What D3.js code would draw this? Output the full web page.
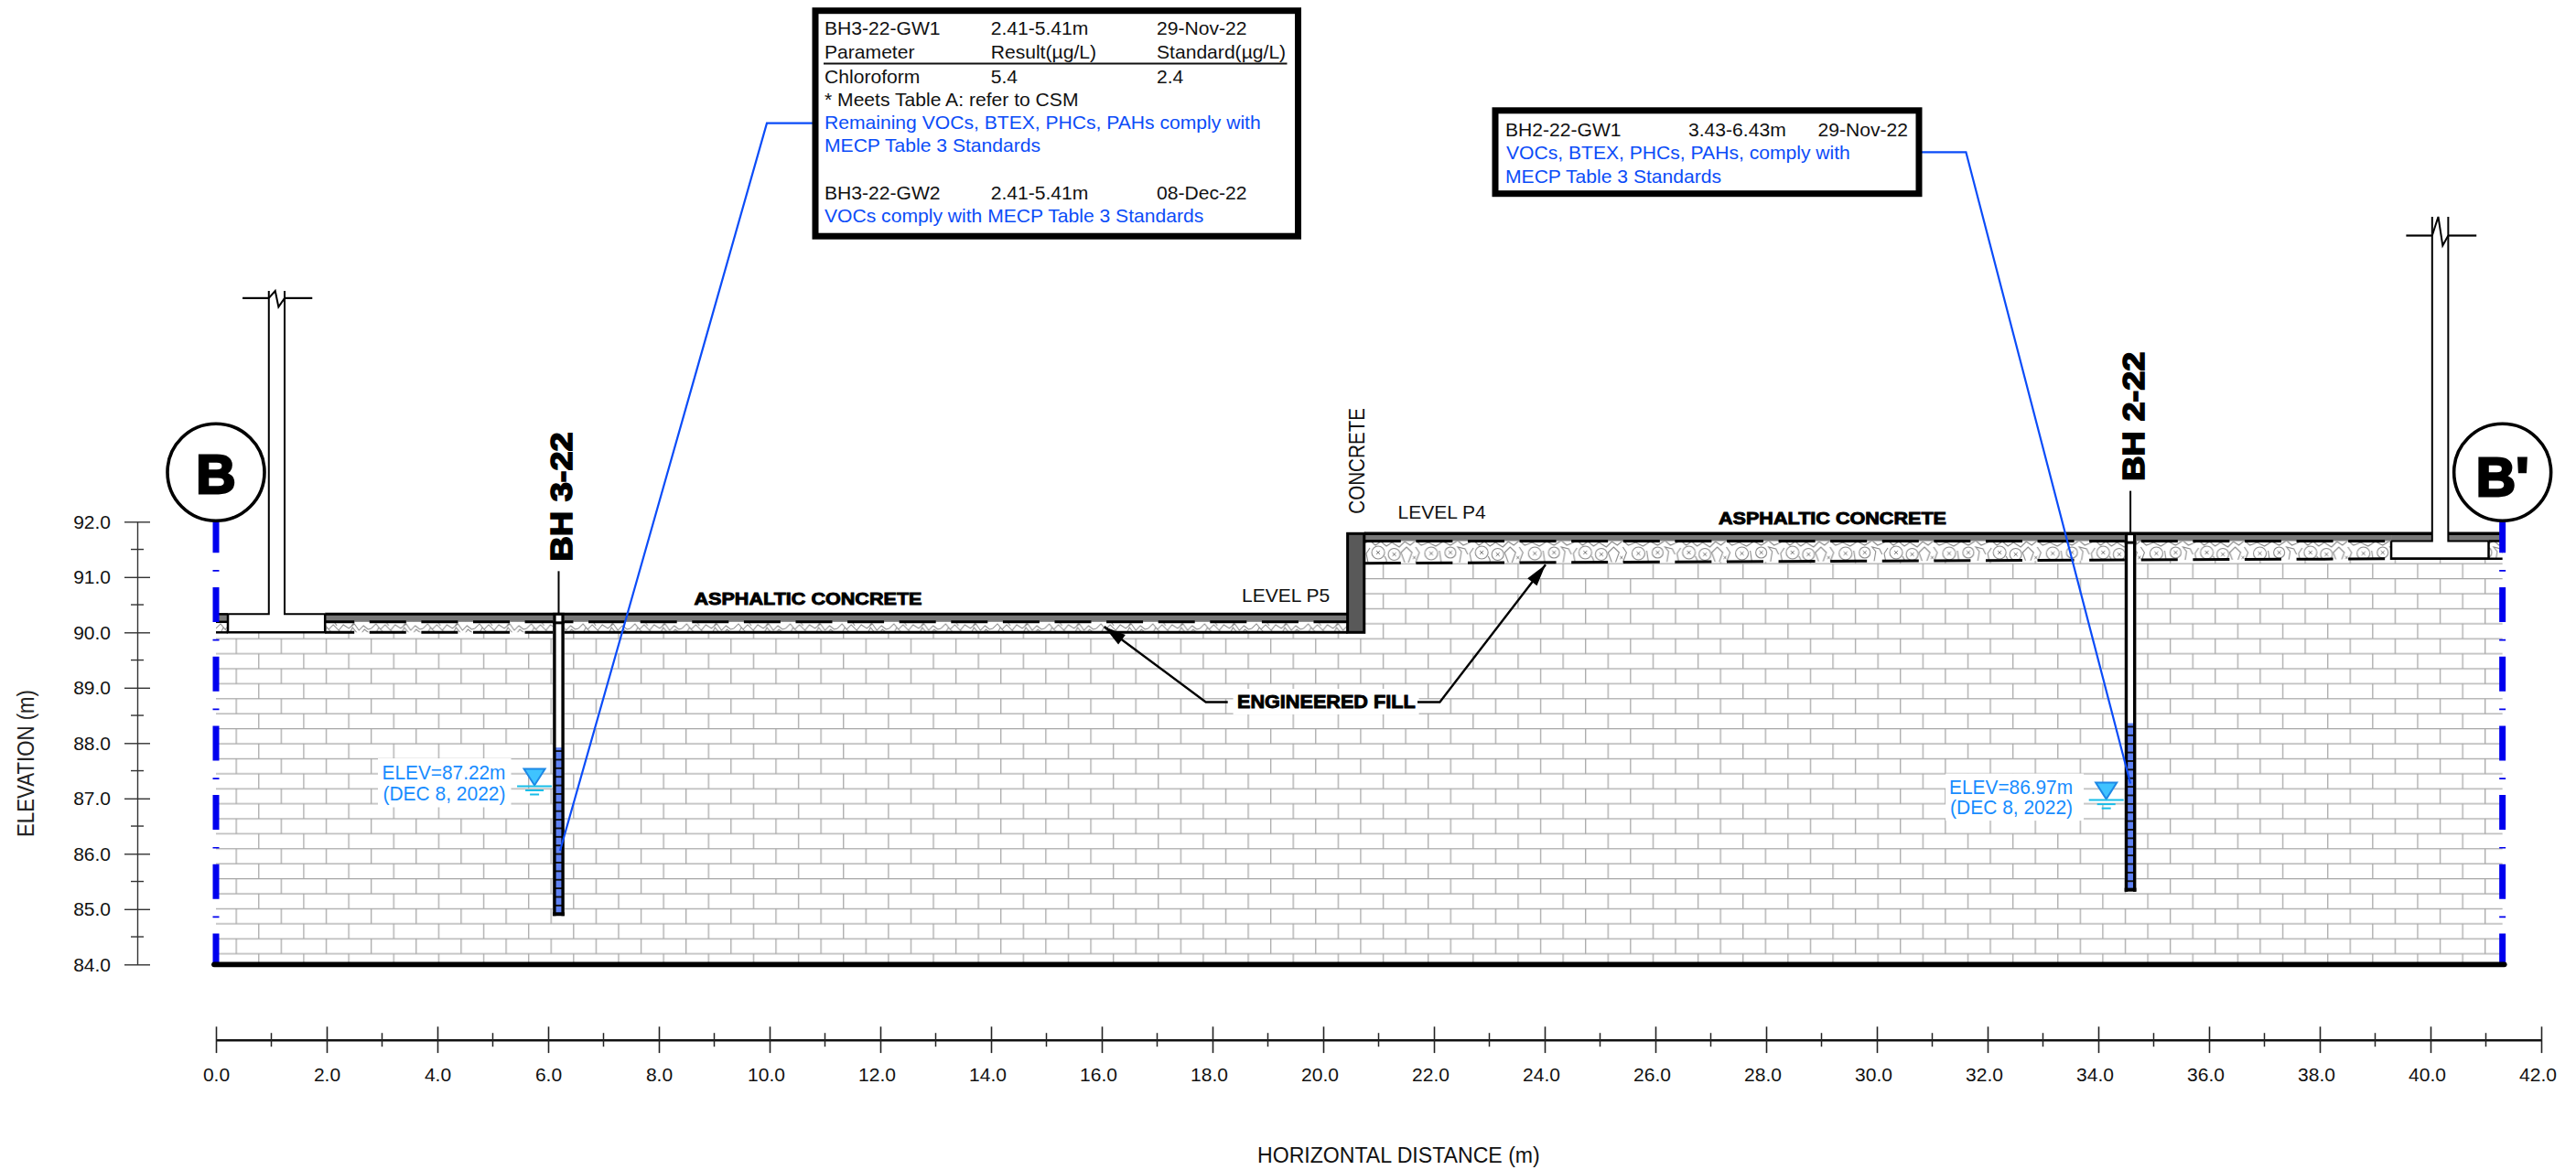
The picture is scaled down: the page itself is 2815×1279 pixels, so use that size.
<!DOCTYPE html>
<html><head><meta charset="utf-8">
<script src="https://cdn.jsdelivr.net/npm/d3@7"></script>
<style>
html,body{margin:0;padding:0;background:#fff}
svg{display:block}
text{font-family:"Liberation Sans",Arial,sans-serif}
</style></head><body>
<svg id="c" width="2815" height="1279"></svg>
<script>
// ---------- data (metres / elevations) ----------
const xMajor = [0,2,4,6,8,10,12,14,16,18,20,22,24,26,28,30,32,34,36,38,40,42];
const xMinor = [1,3,5,7,9,11,13,15,17,19,21,23,25,27,29,31,33,35,37,39,41];
const yMajor = [84,85,86,87,88,89,90,91,92];
const yMinor = [84.5,85.5,86.5,87.5,88.5,89.5,90.5,91.5];
const sectionEnds = [0,41.3];
const sectionNames = ["B","B'"];
const wellNames = ["BH 3-22","BH 2-22"];
const wellX = [6.19,34.58];
const wellTop = [90.33,91.78];
const wellScreenTop = [87.92,88.36];
const wellScreenBottom = [84.91,85.35];
const waterElev = [87.22,86.97];
const waterLabels = ["ELEV=87.22m","ELEV=86.97m"];
const waterDate = "(DEC 8, 2022)";
const p5Levels = [90.33,90.19,90.0];      // slab top, slab underside, fill base
const p4Levels = [91.785,91.65];          // slab top, slab underside
const p4Base = [91.25,91.33];             // fill base at wall and at east end
const stepWall = [20.44,20.74];
const westWall = [0.955,1.24], westFoot = [0.215,1.97], westBreak = [96.04,96.17];
const eastWall = [40.03,40.32], eastFoot = [39.29,41.05], eastBreak = [97.17,97.51];
const box1Rows = [["BH3-22-GW1","2.41-5.41m","29-Nov-22"],["Parameter","Result(µg/L)","Standard(µg/L)"],["Chloroform","5.4","2.4"]];
const box1Notes = ["* Meets Table A: refer to CSM"];
const box1Blue = ["Remaining VOCs, BTEX, PHCs, PAHs comply with","MECP Table 3 Standards"];
const box1Second = ["BH3-22-GW2","2.41-5.41m","08-Dec-22"];
const box1SecondBlue = ["VOCs comply with MECP Table 3 Standards"];
const box2Row = ["BH2-22-GW1","3.43-6.43m","29-Nov-22"];
const box2Blue = ["VOCs, BTEX, PHCs, PAHs, comply with","MECP Table 3 Standards"];

// ---------- scales ----------
const x = d3.scaleLinear().domain([0,42]).range([236,2777]);
const y = d3.scaleLinear().domain([84,92]).range([1054.3,570.3]);
const svg = d3.select("#c");
const BLUE="#0b4cf8", WBLUE="#178cff", CYAN="#18bde8", DASHBLUE="#0000ee";

// ---------- defs ----------
const defs = svg.append("defs");
const brick = defs.append("pattern").attr("id","brick").attr("patternUnits","userSpaceOnUse")
  .attr("x",257.5).attr("y",1025.6).attr("width",49.15).attr("height",32.8);
brick.append("rect").attr("width",49.15).attr("height",32.8).attr("fill","#fff");
brick.append("path").attr("fill","none").attr("stroke","#a6a6a6").attr("stroke-width",1.25)
  .attr("d","M0,.7H49.15M0,17.1H49.15M.7,0V17.1M25.3,17.1V32.8M25.3,0V.7");
const st = defs.append("pattern").attr("id","stoneR").attr("patternUnits","userSpaceOnUse")
  .attr("x",1491).attr("y",590).attr("width",113.2).attr("height",25);
st.append("rect").attr("width",113.2).attr("height",25).attr("fill","#fff");
st.append("path").attr("fill","none").attr("stroke","#8a8a8a").attr("stroke-width",1.1)
  .attr("d","M8,14a7,7 0 1,0 14,0a7,7 0 1,0 -14,0M26,16a6.5,6.5 0 1,0 13,0a6.5,6.5 0 1,0 -13,0"
  +"M66,15a7,7 0 1,0 14,0a7,7 0 1,0 -14,0M88,14a6,6 0 1,0 12,0a6,6 0 1,0 -12,0"
  +"M0,4L6,1L12,6L18,2L24,7L30,3L38,8L44,2L50,6L56,1L62,6L70,3L78,7L86,2L94,6L102,1L108,6L113,4"
  +"M4,25L2,15L6,9M24,25V22L22,18M44,25L40,14L46,8L52,14L48,25M56,25L60,14L56,8M84,25L82,12M104,25L106,13L102,8L110,10L113,16");
st.append("path").attr("fill","none").attr("stroke","#666").attr("stroke-width",.9)
  .attr("d","M13,12l4,4m0,-4l-4,4M30.5,14l4,4m0,-4l-4,4M71,13l4,4m0,-4l-4,4M92,12l4,4m0,-4l-4,4M53,18l3,3m0,-3l-3,3");
const sl = defs.append("pattern").attr("id","stoneL").attr("patternUnits","userSpaceOnUse")
  .attr("x",236).attr("y",680).attr("width",56.6).attr("height",12);
sl.append("rect").attr("width",56.6).attr("height",12).attr("fill","#fff");
sl.append("path").attr("fill","none").attr("stroke","#8a8a8a").attr("stroke-width",1)
  .attr("d","M0,7L5,2L10,8L15,3L21,9L26,3L32,7L38,2L43,9L48,4L53,8L56.6,7M5,12L8,6L13,11M21,9L24,12M33,12L36,6L41,12M46,12L49,8L54,12M16,0L19,4M38,0L35,4");

// ---------- fill (brick hatch) ----------
const gen = d3.line().x(d=>x(d[0])).y(d=>y(d[1]));
svg.append("path").attr("fill","url(#brick)")
  .attr("d",gen([[sectionEnds[0],84],[sectionEnds[0],p5Levels[2]],[stepWall[1],p5Levels[2]],[stepWall[1],p4Base[0]],[sectionEnds[1],p4Base[1]],[sectionEnds[1],84]])+"Z");

// ---------- stone layers ----------
svg.append("path").attr("fill","url(#stoneL)")
  .attr("d",gen([[sectionEnds[0],p5Levels[1]],[stepWall[0],p5Levels[1]],[stepWall[0],p5Levels[2]],[sectionEnds[0],p5Levels[2]]])+"Z");
svg.append("path").attr("fill","url(#stoneR)")
  .attr("d",gen([[stepWall[1],p4Levels[1]],[sectionEnds[1],p4Levels[1]],[sectionEnds[1],p4Base[1]],[stepWall[1],p4Base[0]]])+"Z");

// ---------- asphalt slabs ----------
const GREY="#787878";
const rectM=(x0,x1,e0,e1,fill)=>svg.append("rect").attr("x",x(x0)).attr("width",x(x1)-x(x0)).attr("y",y(e0)).attr("height",y(e1)-y(e0)).attr("fill",fill);
rectM(sectionEnds[0],westFoot[0],p5Levels[0],p5Levels[1],GREY);
rectM(westFoot[1],stepWall[0],p5Levels[0],p5Levels[1],GREY);
rectM(stepWall[1],eastFoot[0],p4Levels[0],p4Levels[1],GREY);
rectM(eastFoot[0],eastWall[0],p4Levels[0],p4Levels[1],GREY);
rectM(eastWall[1],sectionEnds[1],p4Levels[0],p4Levels[1],GREY);

const line=(x0,e0,x1,e1,w,col,dash,off)=>{const l=svg.append("line").attr("x1",x(x0)).attr("y1",y(e0)).attr("x2",x(x1)).attr("y2",y(e1)).attr("stroke",col||"#000").attr("stroke-width",w);
  if(dash)l.attr("stroke-dasharray",dash).attr("stroke-dashoffset",off||0);return l;};
// footings (white) and their outlines
const poly=(pts,w,fill)=>svg.append("path").attr("d",gen(pts)).attr("fill",fill||"none").attr("stroke","#000").attr("stroke-width",w).attr("stroke-linejoin","miter");
svg.append("rect").attr("x",x(westFoot[0])).attr("width",x(westFoot[1])-x(westFoot[0])).attr("y",y(p5Levels[0])).attr("height",y(p5Levels[2])-y(p5Levels[0])).attr("fill","#fff");
svg.append("rect").attr("x",x(eastFoot[0])).attr("width",x(eastFoot[1])-x(eastFoot[0])).attr("y",y(p4Levels[1])).attr("height",y(p4Base[1])-y(p4Levels[1])).attr("fill","#fff");
svg.append("rect").attr("x",x(eastWall[0])).attr("width",x(eastWall[1])-x(eastWall[0])).attr("y",y(p4Levels[0])-1).attr("height",y(p4Levels[1])-y(p4Levels[0])+2).attr("fill","#fff");

// slab top lines
line(sectionEnds[0],p5Levels[0],westFoot[0],p5Levels[0],2.5);
line(westFoot[1],p5Levels[0],stepWall[0],p5Levels[0],3);
line(stepWall[1],p4Levels[0],eastWall[0],p4Levels[0],3.5);
line(eastWall[1],p4Levels[0],sectionEnds[1],p4Levels[0],3.5);
// west footing + wall outline
poly([[westFoot[0],p5Levels[0]],[westFoot[0],p5Levels[2]],[westFoot[1],p5Levels[2]],[westFoot[1],p5Levels[0]]],2.5);
poly([[westWall[0],westBreak[1]],[westWall[0],p5Levels[0]],[westFoot[0],p5Levels[0]]],2);
poly([[westWall[1],westBreak[1]],[westWall[1],p5Levels[0]],[westFoot[1],p5Levels[0]]],2);
// east footing + wall outline
poly([[eastFoot[0],p4Levels[1]],[eastFoot[0],p4Base[1]],[eastFoot[1],p4Base[1]],[eastFoot[1],p4Levels[1]]],2.5);
poly([[eastFoot[0],p4Levels[1]],[eastWall[0],p4Levels[1]],[eastWall[0],eastBreak[1]]],2);
poly([[eastWall[1],eastBreak[1]],[eastWall[1],p4Levels[1]],[eastFoot[1],p4Levels[1]]],2);
// break symbols
const br=(w,lvl,top,l,r,a,b,lowY)=>{
  line(l,lvl,w[0],lvl,2.2); line(w[1],lvl,r,lvl,2.2);
  poly([[w[0],lvl],[a,top],[b,lowY],[w[1],lvl]],2);
};
br(westWall,westBreak[0],westBreak[1],0.48,1.74,1.07,1.13,95.88);
br(eastWall,eastBreak[0],eastBreak[1],39.56,40.83,40.14,40.22,96.99);

// membrane dashes and base lines
line(sectionEnds[0],p5Levels[1],westFoot[0],p5Levels[1],2.5);
line(sectionEnds[0],p5Levels[2],westFoot[0],p5Levels[2],2.5);
line(westFoot[1],p5Levels[1],wellX[0],p5Levels[1],3,"#000","40 16.6",8);
line(westFoot[1],p5Levels[2],wellX[0],p5Levels[2],3,"#000","40 16.6",8);
line(wellX[0],p5Levels[1],stepWall[0],p5Levels[1],3,"#000","40 16.6",24);
line(wellX[0],p5Levels[2],stepWall[0],p5Levels[2],3);
line(stepWall[1],p4Levels[1],eastFoot[0],p4Levels[1],3,"#000","40 16.6",0);
line(stepWall[1],p4Base[0],eastFoot[0],p4Base[1],3,"#000","40 16.6",0);
line(eastFoot[1],p4Levels[1],sectionEnds[1],p4Levels[1],2.5);
line(eastFoot[0],p4Base[1],sectionEnds[1],p4Base[1],2.5);
// step wall (concrete)
svg.append("rect").attr("x",x(stepWall[0])).attr("width",x(stepWall[1])-x(stepWall[0])).attr("y",y(p4Levels[0])).attr("height",y(p5Levels[2])-y(p4Levels[0]))
  .attr("fill","#595959").attr("stroke","#000").attr("stroke-width",3);

// ---------- section lines ----------
sectionEnds.forEach(e=>{
  svg.append("line").attr("x1",x(e)).attr("x2",x(e)).attr("y1",y(92)).attr("y2",y(84))
   .attr("stroke",DASHBLUE).attr("stroke-width",7).attr("stroke-dasharray","38 18.8 1.7 17.2").attr("stroke-dashoffset",4);
});
svg.append("line").attr("x1",x(sectionEnds[0])-2).attr("x2",x(sectionEnds[1])+2).attr("y1",y(84)).attr("y2",y(84))
  .attr("stroke","#000").attr("stroke-width",5.8).attr("stroke-linecap","round");
// section bubbles
sectionEnds.forEach((e,i)=>{
  const g=svg.append("g").attr("transform",`translate(${x(e)},${y(92)-54})`);
  g.append("circle").attr("r",53).attr("fill","#fff").attr("stroke","#000").attr("stroke-width",3.6);
  g.append("text").text(sectionNames[i]).attr("text-anchor","middle").attr("y",i?26:23).attr("font-size",60).attr("font-weight",700)
    .attr("stroke","#000").attr("stroke-width",2.8);
});

// ---------- wells ----------
const waterDx=[-193,-198], waterLine1=[-7.5,-6.6], waterGap=[23.5,22], waterBoxLeft=[-197.5,-202];
wellX.forEach((wx,i)=>{
  const cx=x(wx);
  svg.append("rect").attr("x",cx-6.2).attr("width",12.4).attr("y",y(wellTop[i])).attr("height",y(wellScreenBottom[i])-y(wellTop[i])).attr("fill","#fff");
  const sy0=y(wellScreenTop[i]), sy1=y(wellScreenBottom[i]);
  svg.append("rect").attr("x",cx-4.5).attr("width",9).attr("y",sy0).attr("height",sy1-sy0).attr("fill","#5f82f4");
  svg.append("g").selectAll("line").data(d3.range(wellScreenBottom[i]+0.155,wellScreenTop[i]-0.06,0.155)).join("line")
    .attr("x1",cx-5).attr("x2",cx+5).attr("y1",d=>y(d)).attr("y2",d=>y(d)).attr("stroke","#111").attr("stroke-width",1.9);
  [-4.6,4.6].forEach(o=>svg.append("line").attr("x1",cx+o).attr("x2",cx+o).attr("y1",y(wellTop[i])-1).attr("y2",sy1+2).attr("stroke","#000").attr("stroke-width",3.4));
  svg.append("line").attr("x1",cx-6.4).attr("x2",cx+6.4).attr("y1",y(wellTop[i])).attr("y2",y(wellTop[i])).attr("stroke","#000").attr("stroke-width",3);
  svg.append("line").attr("x1",cx-6.4).attr("x2",cx+6.4).attr("y1",y(wellTop[i])+9.5).attr("y2",y(wellTop[i])+9.5).attr("stroke","#000").attr("stroke-width",3);
  svg.append("line").attr("x1",cx-6.4).attr("x2",cx+6.4).attr("y1",sy1).attr("y2",sy1).attr("stroke","#000").attr("stroke-width",4);
  svg.append("line").attr("x1",cx).attr("x2",cx).attr("y1",y(wellTop[i])).attr("y2",y(wellTop[i])-47).attr("stroke","#000").attr("stroke-width",2);
  const ly=y(wellTop[i])-57.5;
  svg.append("text").text(wellNames[i]).attr("transform",`translate(${cx+15},${ly}) rotate(-90)`)
    .attr("font-size",34).attr("font-weight",700).attr("textLength",141.6).attr("lengthAdjust","spacingAndGlyphs").attr("stroke","#000").attr("stroke-width",1.6);
  // water table marker
  const wy=y(waterElev[i]), tx=cx-26.4;
  svg.append("rect").attr("x",cx+waterBoxLeft[i]).attr("width",i?151:145.5).attr("y",wy-(i?29:30.5)).attr("height",i?51.5:53.5).attr("fill","#fff");
  svg.append("text").text(waterLabels[i]).attr("x",cx+waterDx[i]).attr("y",wy+waterLine1[i]).attr("font-size",21.5).attr("fill",WBLUE).attr("textLength",135).attr("lengthAdjust","spacingAndGlyphs");
  svg.append("text").text(waterDate).attr("x",cx+waterDx[i]+1).attr("y",wy+waterLine1[i]+waterGap[i]).attr("font-size",21.5).attr("fill",WBLUE).attr("textLength",134).attr("lengthAdjust","spacingAndGlyphs");
  svg.append("path").attr("d",`M${tx-11.5},${wy-19}H${tx+11.5}L${tx},${wy-1}Z`).attr("fill","#3fc3ff").attr("stroke","#1e88e5").attr("stroke-width",2);
  [[-19,19,0],[-10,10,4.5],[-5,5,9]].forEach(o=>svg.append("line").attr("x1",tx+o[0]).attr("x2",tx+o[1]).attr("y1",wy+o[2]).attr("y2",wy+o[2]).attr("stroke",CYAN).attr("stroke-width",2));
});

// ---------- axes ----------
const yAxis=svg.append("g").attr("transform",`translate(150,0)`)
  .call(d3.axisLeft(y).tickValues(yMajor).tickSizeInner(14).tickSizeOuter(0).tickPadding(15).tickFormat(d3.format(".1f")));
yAxis.selectAll(".tick line").attr("x1",-14).attr("x2",14).attr("stroke","#333").attr("stroke-width",1.4);
yAxis.select(".domain").attr("stroke","#333").attr("stroke-width",1.4);
yAxis.selectAll("text").attr("font-size",21).attr("fill","#111");
yAxis.attr("font-family",null);
svg.append("g").selectAll("line").data(yMinor).join("line").attr("x1",143).attr("x2",157).attr("y1",y).attr("y2",y).attr("stroke","#333").attr("stroke-width",1.4);

const xAxis=svg.append("g").attr("transform",`translate(0,1136.7)`)
  .call(d3.axisBottom(x).tickValues(xMajor).tickSizeInner(14.4).tickSizeOuter(0).tickPadding(16).tickFormat(d3.format(".1f")));
xAxis.selectAll(".tick line").attr("y1",-14.4).attr("y2",14.4).attr("stroke","#222").attr("stroke-width",1.6);
xAxis.select(".domain").attr("stroke","#111").attr("stroke-width",2.4);
xAxis.selectAll("text").attr("font-size",21).attr("fill","#111").attr("dx",d=>d>=10?-4:0);
xAxis.attr("font-family",null);
svg.append("g").attr("transform","translate(0,1136.7)").selectAll("line").data(xMinor).join("line").attr("x1",x).attr("x2",x).attr("y1",-7.5).attr("y2",7.5).attr("stroke","#222").attr("stroke-width",1.5);

svg.append("text").text("HORIZONTAL DISTANCE (m)").attr("x",1374).attr("y",1270.7).attr("font-size",23.1).attr("fill","#111");
svg.append("text").text("ELEVATION (m)").attr("transform","translate(36.5,915) rotate(-90)").attr("font-size",25).attr("fill","#222").attr("textLength",161).attr("lengthAdjust","spacingAndGlyphs");

// ---------- annotations ----------
const label=(s,px,py,size)=>svg.append("text").text(s).attr("x",px).attr("y",py).attr("font-size",size).attr("fill","#111");
label("LEVEL P5",1357,658,21);
label("LEVEL P4",1527.5,567,21);
svg.append("text").text("CONCRETE").attr("transform","translate(1491,561.7) rotate(-90)").attr("font-size",23).attr("fill","#111").attr("textLength",115.7).attr("lengthAdjust","spacingAndGlyphs");
const heavy=(s,px,py,size,len)=>svg.append("text").text(s).attr("x",px).attr("y",py).attr("font-size",size).attr("font-weight",700).attr("textLength",len).attr("lengthAdjust","spacingAndGlyphs").attr("stroke","#000").attr("stroke-width",.9);
heavy("ASPHALTIC CONCRETE",758.5,661,19,249);
heavy("ASPHALTIC CONCRETE",1878,573,19,249);

svg.append("rect").attr("x",1347.6).attr("y",753).attr("width",203).attr("height",28).attr("fill","#fff");
heavy("ENGINEERED FILL",1352,774,20,194.6);
const arrow=(pts)=>{
  svg.append("path").attr("d",d3.line()(pts)).attr("fill","none").attr("stroke","#000").attr("stroke-width",2.4);
  const [tx,ty]=pts[pts.length-1],[bx,by]=pts[pts.length-2];
  const L=Math.hypot(bx-tx,by-ty),ux=(bx-tx)/L,uy=(by-ty)/L,hl=24,hw=6.5;
  const mx=tx+ux*hl,my=ty+uy*hl;
  svg.append("path").attr("d",`M${tx},${ty}L${mx-uy*hw},${my+ux*hw}L${mx+uy*hw},${my-ux*hw}Z`).attr("fill","#000");
};
arrow([[1341.7,767.5],[1317.7,767.5],[1206.7,685]]);
arrow([[1549,767.5],[1573.4,767.5],[1689,617.3]]);

// result boxes
const box=(x0,y0,x1,y1)=>svg.append("rect").attr("x",x0).attr("y",y0).attr("width",x1-x0).attr("height",y1-y0).attr("fill","#fff").attr("stroke","#000").attr("stroke-width",7);
const leader=pts=>svg.append("path").attr("d",d3.line()(pts)).attr("fill","none").attr("stroke",BLUE).attr("stroke-width",2.2);
const cols1=[901,1082.7,1264], FS=21.1;
const row=(r,cols,py)=>r.forEach((s,j)=>label(s,cols[j],py,FS));
const blue=(s,px,py)=>label(s,px,py,FS).attr("fill",BLUE);
leader([[888,134.7],[838,134.7],[x(wellX[0])+1.5,930]]);
box(891,11.7,1418.5,258.2);
row(box1Rows[0],cols1,37.7);
row(box1Rows[1],cols1,64.3);
svg.append("line").attr("x1",900).attr("x2",1406.5).attr("y1",69.5).attr("y2",69.5).attr("stroke","#111").attr("stroke-width",2);
row(box1Rows[2],cols1,90.7);
label(box1Notes[0],901,116,FS);
blue(box1Blue[0],901,141); blue(box1Blue[1],901,166);
row(box1Second,cols1,217.7);
blue(box1SecondBlue[0],901,242.7);

leader([[2097,166.3],[2148.4,166.3],[x(wellX[1]),856.5]]);
box(1634,120.8,2097,211.7);
row(box2Row,[1645,1845,1986.5],149.3);
blue(box2Blue[0],1646,174.3); blue(box2Blue[1],1645,200);
</script>
</body></html>
